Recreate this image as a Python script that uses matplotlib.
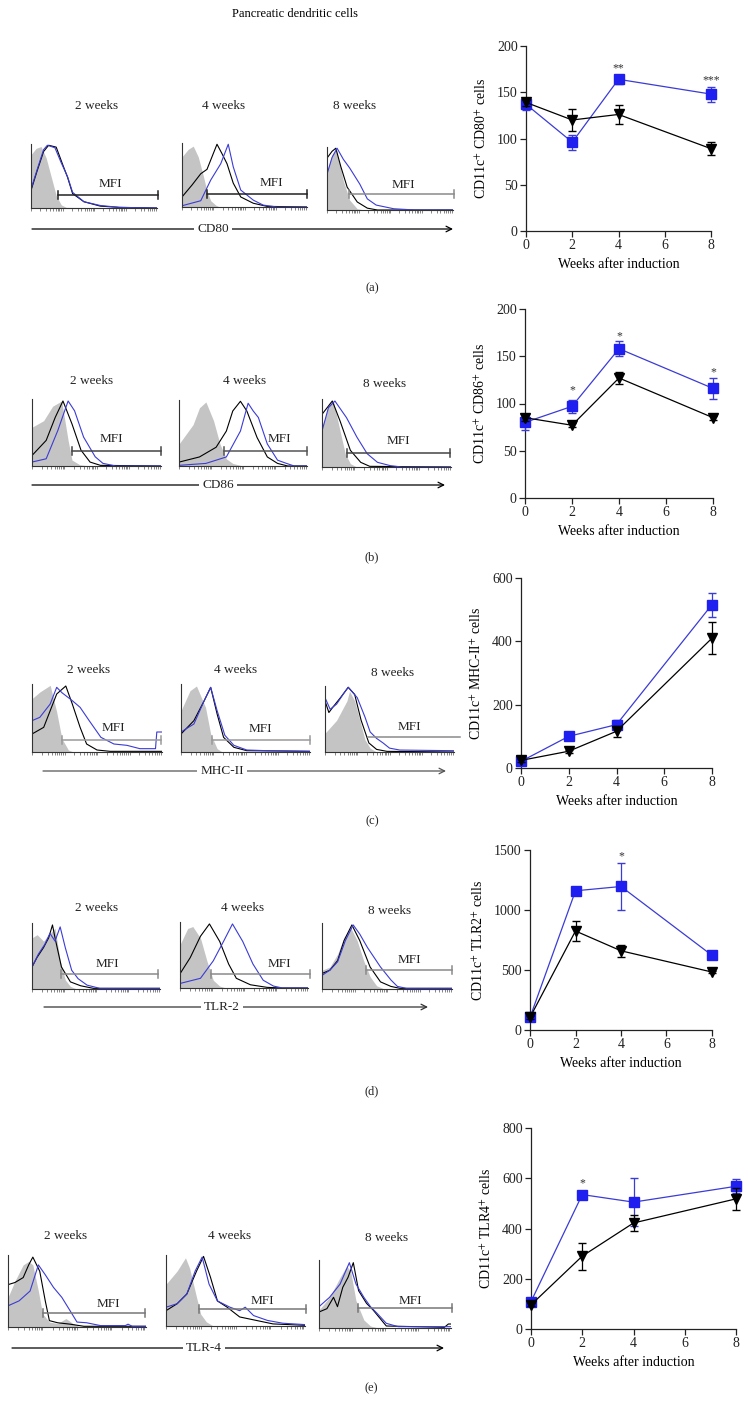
import matplotlib
matplotlib.use("Agg")
import matplotlib.pyplot as plt
import numpy as np

plt.rcParams['font.family'] = ['Liberation Serif', 'DejaVu Serif']
plt.rcParams['mathtext.fontset'] = 'stix'

W, H = 748, 1414

# ---- line chart data (weeks after induction) ----
weeks = [0, 2, 4, 8]

cd80_blue = [137, 96, 164, 148]
cd80_blue_err = [6, 8, 5, 8]
cd80_black = [139, 120, 126, 89]
cd80_black_err = [4, 12, 10, 7]
cd80_stars = [(4, 176, '**'), (8, 163, '***')]

cd86_blue = [80, 97, 158, 116]
cd86_blue_err = [8, 7, 8, 11]
cd86_black = [85, 77, 127, 85]
cd86_black_err = [3, 2, 6, 2]
cd86_stars = [(2, 114, '*'), (4, 171, '*'), (8, 133, '*')]

mhc_blue = [21, 100, 137, 516]
mhc_blue_err = [5, 6, 16, 38]
mhc_black = [24, 53, 116, 410]
mhc_black_err = [4, 5, 17, 50]
mhc_stars = []

tlr2_blue = [105, 1160, 1196, 622]
tlr2_blue_err = [10, 15, 192, 20]
tlr2_black = [105, 825, 660, 483]
tlr2_black_err = [10, 83, 50, 10]
tlr2_stars = [(4, 1445, '*')]

tlr4_blue = [109, 535, 505, 568]
tlr4_blue_err = [8, 8, 95, 28]
tlr4_black = [96, 290, 422, 518]
tlr4_black_err = [6, 54, 30, 45]
tlr4_stars = [(2, 578, '*')]

# ---- histogram data: (channel fraction, relative count) ----
cd80_2w_iso = [(0, .85), (.04, .95), (.08, .98), (.12, .8), (.16, .5), (.2, .2), (.24, .05), (.28, .01), (1, 0)]
cd80_2w_ctl = [(0, .28), (.05, .6), (.1, .9), (.14, 1.0), (.2, .97), (.25, .7), (.29, .49), (.33, .23), (.42, .1), (.55, .03), (.7, .01), (1, 0)]
cd80_2w_trt = [(0, .3), (.05, .62), (.1, .93), (.13, 1.0), (.19, .96), (.24, .72), (.29, .5), (.33, .25), (.42, .1), (.55, .04), (.7, .01), (1, 0)]
cd80_4w_iso = [(0, .8), (.05, .92), (.09, .97), (.13, .8), (.17, .5), (.2, .25), (.23, .1), (.27, .03), (.3, 0), (1, 0)]
cd80_4w_ctl = [(0, .16), (.08, .35), (.15, .53), (.2, .6), (.24, .8), (.28, 1.0), (.32, .85), (.36, .69), (.41, .38), (.47, .16), (.57, .06), (.68, .01), (1, 0)]
cd80_4w_trt = [(0, .02), (.15, .1), (.23, .43), (.31, .69), (.37, 1.0), (.41, .64), (.47, .27), (.57, .11), (.65, .03), (.76, 0), (1, 0)]
cd80_8w_iso = [(0, .63), (.04, .9), (.07, .97), (.1, .75), (.13, .47), (.18, .16), (.24, .02), (.3, 0), (1, 0)]
cd80_8w_ctl = [(0, .84), (.04, .95), (.07, 1.0), (.11, .7), (.16, .37), (.24, .13), (.32, .03), (.4, 0), (1, 0)]
cd80_8w_trt = [(0, .58), (.04, .85), (.08, 1.0), (.13, .82), (.18, .68), (.26, .42), (.32, .18), (.39, .08), (.53, .02), (.7, 0), (1, 0)]

cd86_2w_iso = [(0, .59), (.09, .69), (.16, .91), (.23, .99), (.28, .39), (.31, .09), (.37, .02), (.45, 0), (1, 0)]
cd86_2w_ctl = [(0, .16), (.11, .39), (.18, .74), (.24, .99), (.31, .64), (.38, .24), (.45, .06), (.53, .01), (1, 0)]
cd86_2w_trt = [(0, .06), (.11, .11), (.2, .54), (.28, .99), (.33, .84), (.4, .44), (.49, .14), (.55, .04), (.65, 0), (1, 0)]
cd86_4w_iso = [(0, .34), (.11, .64), (.16, .9), (.21, .99), (.27, .7), (.32, .34), (.37, .11), (.42, .04), (.5, 0), (1, 0)]
cd86_4w_ctl = [(0, .06), (.16, .14), (.29, .29), (.37, .54), (.42, .85), (.48, 1.0), (.53, .85), (.61, .44), (.69, .14), (.77, .04), (.85, 0), (1, 0)]
cd86_4w_trt = [(0, .01), (.21, .04), (.37, .14), (.48, .54), (.54, .97), (.58, .85), (.62, .75), (.69, .34), (.77, .09), (.84, .04), (.9, 0), (1, 0)]
cd86_8w_iso = [(0, .59), (.06, .97), (.09, .98), (.14, .54), (.18, .2), (.22, .05), (.27, 0), (1, 0)]
cd86_8w_ctl = [(0, .79), (.08, .99), (.14, .69), (.22, .25), (.3, .07), (.37, .01), (1, 0)]
cd86_8w_trt = [(0, .54), (.05, .89), (.1, .99), (.19, .74), (.27, .45), (.35, .2), (.43, .07), (.53, .02), (.62, 0), (1, 0)]

mhc_2w_iso = [(0, .8), (.06, .9), (.14, 1.0), (.19, .6), (.23, .2), (.28, .03), (.32, 0), (1, 0)]
mhc_2w_ctl = [(0, .27), (.09, .37), (.14, .62), (.19, .87), (.26, .99), (.31, .72), (.37, .37), (.42, .12), (.5, .03), (.6, .01), (1, .01)]
mhc_2w_trt = [(0, .47), (.06, .52), (.14, .72), (.19, .97), (.23, .89), (.31, .77), (.37, .67), (.44, .47), (.53, .22), (.63, .12), (.73, .1), (.83, .05), (.95, .05), (.96, .3), (1, .3)]
mhc_4w_iso = [(0, .62), (.07, .92), (.12, .99), (.19, .67), (.23, .27), (.28, .05), (.32, 0), (1, 0)]
mhc_4w_ctl = [(0, .27), (.1, .47), (.18, .77), (.23, .97), (.28, .57), (.33, .22), (.41, .07), (.51, .02), (1, .01)]
mhc_4w_trt = [(0, .3), (.1, .42), (.18, .77), (.23, .97), (.28, .62), (.34, .25), (.41, .1), (.51, .03), (.66, .02), (1, .01)]
mhc_8w_iso = [(0, .29), (.09, .49), (.17, .79), (.19, .94), (.23, .79), (.27, .49), (.31, .19), (.35, .06), (.4, 0), (1, 0)]
mhc_8w_ctl = [(0, .79), (.03, .61), (.06, .69), (.12, .84), (.18, 1.0), (.23, .89), (.28, .49), (.34, .14), (.4, .04), (.48, .01), (1, 0)]
mhc_8w_trt = [(0, .84), (.04, .66), (.09, .74), (.14, .89), (.18, 1.0), (.25, .84), (.31, .54), (.35, .31), (.4, .21), (.45, .14), (.5, .06), (.58, .03), (1, .02)]

tlr2_2w_iso = [(0, .79), (.04, .84), (.09, .74), (.14, .86), (.18, .94), (.22, .44), (.26, .14), (.3, .04), (.35, 0), (1, 0)]
tlr2_2w_ctl = [(0, .34), (.04, .49), (.09, .64), (.13, .79), (.16, .99), (.18, .79), (.23, .34), (.3, .11), (.38, .05), (.48, .01), (1, .01)]
tlr2_2w_trt = [(0, .34), (.05, .54), (.1, .69), (.14, .86), (.18, .74), (.22, .96), (.26, .64), (.31, .29), (.36, .16), (.43, .06), (.53, .01), (1, .01)]
tlr2_4w_iso = [(0, .67), (.06, .92), (.1, .95), (.16, .77), (.21, .42), (.26, .12), (.31, .03), (.36, 0), (1, 0)]
tlr2_4w_ctl = [(0, .22), (.08, .47), (.16, .8), (.23, .99), (.31, .72), (.38, .37), (.44, .15), (.55, .05), (.68, .01), (.8, 0), (1, 0)]
tlr2_4w_trt = [(0, .07), (.16, .15), (.26, .42), (.34, .72), (.41, .99), (.49, .72), (.57, .37), (.65, .12), (.73, .03), (.8, 0), (1, 0)]
tlr2_8w_iso = [(0, .29), (.06, .34), (.12, .54), (.17, .8), (.22, .95), (.27, .75), (.32, .44), (.37, .19), (.42, .05), (.48, 0), (1, 0)]
tlr2_8w_ctl = [(0, .24), (.06, .29), (.12, .44), (.17, .75), (.23, .99), (.29, .75), (.37, .34), (.45, .11), (.53, .04), (.6, .01), (1, .01)]
tlr2_8w_trt = [(0, .21), (.06, .29), (.12, .42), (.18, .75), (.24, .99), (.29, .85), (.35, .64), (.4, .49), (.45, .34), (.53, .14), (.58, .04), (.65, .01), (1, .01)]

tlr4_2w_iso = [(0, .42), (.05, .65), (.11, .88), (.15, .93), (.18, .88), (.22, .51), (.25, .19), (.3, .07), (.36, .05), (.42, .12), (.47, .05), (.52, 0), (1, 0)]
tlr4_2w_ctl = [(0, .6), (.05, .63), (.11, .7), (.15, .88), (.18, .99), (.23, .79), (.27, .37), (.3, .09), (.36, .06), (.45, .04), (.55, .01), (1, .01)]
tlr4_2w_trt = [(0, .3), (.08, .37), (.16, .51), (.22, .88), (.27, .74), (.33, .56), (.39, .42), (.45, .23), (.5, .07), (.57, .06), (.67, .02), (.85, .02), (.87, .04), (.9, .01), (1, .01)]
tlr4_4w_iso = [(0, .6), (.08, .79), (.14, .98), (.17, .83), (.22, .41), (.25, .17), (.29, .06), (.34, 0), (1, 0)]
tlr4_4w_ctl = [(0, .22), (.08, .32), (.15, .46), (.22, .79), (.27, 1.0), (.32, .7), (.37, .36), (.44, .27), (.53, .13), (.65, .08), (.77, .03), (1, .01)]
tlr4_4w_trt = [(0, .27), (.08, .32), (.15, .46), (.21, .79), (.26, .99), (.31, .6), (.37, .36), (.46, .27), (.53, .22), (.57, .27), (.63, .15), (.73, .08), (.84, .04), (1, .02)]
tlr4_8w_iso = [(0, .27), (.08, .46), (.16, .76), (.21, .93), (.24, .85), (.28, .41), (.34, .12), (.39, .03), (.45, 0), (1, 0)]
tlr4_8w_ctl = [(0, .24), (.06, .29), (.11, .46), (.14, .32), (.18, .61), (.22, .76), (.26, .98), (.3, .56), (.36, .37), (.41, .27), (.46, .15), (.51, .03), (.95, .01), (.98, .06), (1, .06)]
tlr4_8w_trt = [(0, .32), (.08, .46), (.16, .66), (.23, .98), (.28, .66), (.34, .46), (.39, .32), (.44, .22), (.51, .07), (.6, .02), (1, .02)]

week_labels = ['2 weeks', '4 weeks', '8 weeks']

fig = plt.figure(figsize=(W / 100, H / 100), dpi=100)


def px_axes(x0, y0, x1, y1):
    return fig.add_axes([x0 / W, 1 - y1 / H, (x1 - x0) / W, (y1 - y0) / H])


# overlay in pixel coordinates for labels, arrows and MFI gates
ov = fig.add_axes([0, 0, 1, 1], zorder=5)
ov.set_xlim(0, W)
ov.set_ylim(H, 0)
ov.axis('off')
ov.patch.set_alpha(0)

BLUE_H = '#3b3bd6'
BLUE = '#1f1ff0'

minor_pos = [d / 4 + np.log10(k) / 4 for d in range(4) for k in range(1, 10)]


def draw_hist(box, iso, ctl, trt):
    ax = px_axes(*box)
    xi, yi = zip(*iso)
    ax.fill_between(xi, 0, yi, color='#c4c4c4', lw=0)
    xc, yc = zip(*ctl)
    ax.plot(xc, yc, color='black', lw=0.8)
    xt, yt = zip(*trt)
    ax.plot(xt, yt, color=BLUE_H, lw=0.8)
    ax.set_xlim(0, 1)
    ax.set_ylim(0, 1.02)
    for s in ['top', 'right']:
        ax.spines[s].set_visible(False)
    for s in ['left', 'bottom']:
        ax.spines[s].set_color('#333333')
        ax.spines[s].set_linewidth(0.8)
    ax.set_yticks([])
    ax.set_xticks(minor_pos)
    ax.tick_params(axis='x', length=1.8, width=0.5, color='#555555', labelbottom=False)
    ax.patch.set_alpha(0)


def draw_gate(x0, x1, y, tx, ty, color, caps=True):
    ov.plot([x0, x1], [y, y], color=color, lw=1.1)
    if caps:
        ov.plot([x0, x0], [y - 4, y + 4], color=color, lw=1.1)
        ov.plot([x1, x1], [y - 4, y + 4], color=color, lw=1.1)
    ov.text(tx, ty, 'MFI', ha='center', va='center', fontsize=9.5, color='#222222')


def draw_arrow(x0, x1, y, label, lx, color='black'):
    ov.annotate('', xy=(x1, y), xytext=(x0, y),
                arrowprops=dict(arrowstyle='->', color=color, lw=0.9, shrinkA=0, shrinkB=0))
    ov.text(lx, y, label, ha='center', va='center', fontsize=9.5, color='#222222',
            bbox=dict(facecolor='white', edgecolor='none', pad=2.5))


def draw_line(box, ymax, ystep, blue, blue_err, black, black_err, stars, ylabel, ypad):
    ax = px_axes(*box)
    ax.errorbar(weeks, blue, yerr=blue_err, color=BLUE_H, ecolor=BLUE_H, lw=0.9,
                elinewidth=0.9, capsize=3, marker='s', ms=6.5, mfc=BLUE, mec=BLUE,
                clip_on=False, zorder=3)
    ax.errorbar(weeks, black, yerr=black_err, color='black', ecolor='black', lw=0.9,
                elinewidth=0.9, capsize=3, marker='v', ms=7, mfc='black', mec='black',
                clip_on=False, zorder=4)
    for x, y, s in stars:
        ax.text(x, y, s, ha='center', va='center', fontsize=8.5, color='#333333')
    ax.set_xlim(0, 8)
    ax.set_ylim(0, ymax)
    ax.set_xticks([0, 2, 4, 6, 8])
    ax.set_yticks(np.arange(0, ymax + 1, ystep))
    for s in ['top', 'right']:
        ax.spines[s].set_visible(False)
    for s in ['left', 'bottom']:
        ax.spines[s].set_linewidth(0.9)
        ax.spines[s].set_color('#222222')
    ax.tick_params(length=4, width=0.9, labelsize=10, pad=2, colors='#222222')
    ax.set_xlabel('Weeks after induction', fontsize=10, labelpad=4)
    ax.set_ylabel(ylabel, fontsize=10, labelpad=ypad)
    ax.patch.set_alpha(0)


ov.text(295, 14, 'Pancreatic dendritic cells', ha='center', va='center', fontsize=9)

rows = [
    dict(hist=[(31, 144, 157, 208), (182, 143, 307, 207), (327, 147, 453, 210)],
         curves=[(cd80_2w_iso, cd80_2w_ctl, cd80_2w_trt), (cd80_4w_iso, cd80_4w_ctl, cd80_4w_trt),
                 (cd80_8w_iso, cd80_8w_ctl, cd80_8w_trt)],
         weeks_xy=[(97, 106), (224, 106), (355, 106)],
         gates=[(58, 158, 195, 110, 184, '#222222', True), (207, 307, 194, 271, 183, '#222222', True),
                (349, 454, 194, 403, 185, '#8a8a8a', True)],
         arrow=(32, 453, 229, 'CD80', 213, 'black'), letter=(372, 288, '(a)')),
    dict(hist=[(32, 399, 161, 466), (179, 400, 307, 466), (322, 399, 451, 467)],
         curves=[(cd86_2w_iso, cd86_2w_ctl, cd86_2w_trt), (cd86_4w_iso, cd86_4w_ctl, cd86_4w_trt),
                 (cd86_8w_iso, cd86_8w_ctl, cd86_8w_trt)],
         weeks_xy=[(92, 381), (245, 381), (385, 384)],
         gates=[(72, 161, 451, 111, 439, '#444444', True), (224, 307, 451, 279, 439, '#555555', True),
                (347, 450, 453, 398, 441, '#444444', True)],
         arrow=(32, 445, 485, 'CD86', 218, 'black'), letter=(372, 557, '(b)')),
    dict(hist=[(32, 684, 162, 752), (181, 684, 310, 752), (325, 686, 454, 752)],
         curves=[(mhc_2w_iso, mhc_2w_ctl, mhc_2w_trt), (mhc_4w_iso, mhc_4w_ctl, mhc_4w_trt),
                 (mhc_8w_iso, mhc_8w_ctl, mhc_8w_trt)],
         weeks_xy=[(89, 670), (236, 670), (393, 673)],
         gates=[(62, 161, 740, 113, 728, '#9a9a9a', True), (212, 310, 740, 260, 729, '#9a9a9a', True),
                (368, 460, 737, 409, 727, '#8a8a8a', False)],
         arrow=(43, 446, 771, 'MHC-II', 222, '#555555'), letter=(372, 821, '(c)')),
    dict(hist=[(32, 923, 160, 989), (180, 922, 308, 988), (322, 923, 452, 989)],
         curves=[(tlr2_2w_iso, tlr2_2w_ctl, tlr2_2w_trt), (tlr2_4w_iso, tlr2_4w_ctl, tlr2_4w_trt),
                 (tlr2_8w_iso, tlr2_8w_ctl, tlr2_8w_trt)],
         weeks_xy=[(97, 908), (243, 908), (390, 911)],
         gates=[(61, 158, 974, 107, 964, '#8a8a8a', True), (211, 310, 974, 279, 964, '#8a8a8a', True),
                (366, 452, 970, 409, 960, '#8a8a8a', True)],
         arrow=(44, 428, 1007, 'TLR-2', 222, '#333333'), letter=(372, 1091, '(d)')),
    dict(hist=[(8, 1255, 146, 1327), (166, 1255, 305, 1326), (319, 1260, 451, 1328)],
         curves=[(tlr4_2w_iso, tlr4_2w_ctl, tlr4_2w_trt), (tlr4_4w_iso, tlr4_4w_ctl, tlr4_4w_trt),
                 (tlr4_8w_iso, tlr4_8w_ctl, tlr4_8w_trt)],
         weeks_xy=[(66, 1236), (230, 1236), (387, 1238)],
         gates=[(43, 145, 1313, 108, 1304, '#777777', True), (199, 306, 1309, 262, 1301, '#777777', True),
                (358, 452, 1308, 410, 1301, '#777777', True)],
         arrow=(12, 444, 1348, 'TLR-4', 204, 'black'), letter=(371, 1388, '(e)')),
]

for r in rows:
    for box, (iso, ctl, trt) in zip(r['hist'], r['curves']):
        draw_hist(box, iso, ctl, trt)
    for (x, y), lab in zip(r['weeks_xy'], week_labels):
        ov.text(x, y, lab, ha='center', va='center', fontsize=9.5, color='#222222')
    for g in r['gates']:
        draw_gate(*g)
    x0, x1, y, lab, lx, col = r['arrow']
    draw_arrow(x0, x1, y, lab, lx, col)
    lx, ly, lt = r['letter']
    ov.text(lx, ly, lt, ha='center', va='center', fontsize=9, color='#222222')

draw_line((526, 46, 711, 231), 200, 50, cd80_blue, cd80_blue_err, cd80_black, cd80_black_err,
          cd80_stars, 'CD11c$^{+}$ CD80$^{+}$ cells', 6)
draw_line((525, 309, 713, 498), 200, 50, cd86_blue, cd86_blue_err, cd86_black, cd86_black_err,
          cd86_stars, 'CD11c$^{+}$ CD86$^{+}$ cells', 6)
draw_line((521, 578, 712, 768), 600, 200, mhc_blue, mhc_blue_err, mhc_black, mhc_black_err,
          mhc_stars, 'CD11c$^{+}$ MHC-II$^{+}$ cells', 6)
draw_line((530, 850, 712, 1030), 1500, 500, tlr2_blue, tlr2_blue_err, tlr2_black, tlr2_black_err,
          tlr2_stars, 'CD11c$^{+}$ TLR2$^{+}$ cells', 6)
draw_line((531, 1128, 736, 1329), 800, 200, tlr4_blue, tlr4_blue_err, tlr4_black, tlr4_black_err,
          tlr4_stars, 'CD11c$^{+}$ TLR4$^{+}$ cells', 6)

fig.savefig('out.png', dpi=100)
